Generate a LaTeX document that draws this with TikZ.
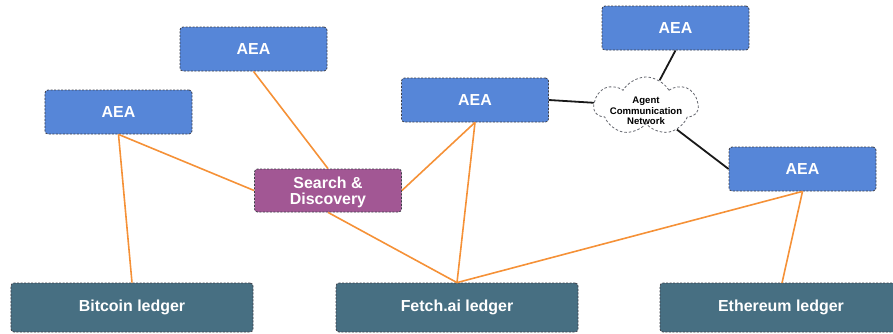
\documentclass[tikz,border=0pt]{standalone}
\usepackage{fontspec}
\setmainfont{Liberation Sans}
\usetikzlibrary{shapes.symbols}
\definecolor{aeablue}{RGB}{86,134,216}
\definecolor{sdpurple}{RGB}{162,87,148}
\definecolor{ledger}{RGB}{71,111,130}
\definecolor{linkorange}{RGB}{245,145,55}
\definecolor{bordergray}{RGB}{60,62,72}
\tikzset{
  box/.style={rectangle, rounded corners=3bp, draw=bordergray, line width=0.8bp,
    dash pattern=on 2bp off 1.5bp, text=white, font=\bfseries\fontsize{16}{16}\selectfont,
    align=center, inner sep=0pt},
  aea/.style={box, fill=aeablue, minimum width=147bp, minimum height=44bp},
  sd/.style={box, fill=sdpurple, minimum width=147bp, minimum height=43bp},
  ledgerbox/.style={box, fill=ledger, minimum width=242bp, minimum height=49bp},
  acn/.style={cloud, cloud puffs=7, cloud puff arc=120, aspect=1.8, draw=bordergray!80,
    line width=0.8bp, dash pattern=on 2.5bp off 2bp, fill=white, inner sep=0pt,
    minimum width=104bp, minimum height=58bp},
  acntext/.style={align=center, inner sep=0pt, font=\bfseries\fontsize{9.6}{10.7}\selectfont},
  orange link/.style={draw=linkorange, line width=1.6bp},
  black link/.style={draw=black!90, line width=1.8bp}
}
\begin{document}
\begin{tikzpicture}[x=1bp,y=-1bp]
\useasboundingbox (0,0) rectangle (893,333);
\clip (0,0) rectangle (893,333);
\node[aea] (aea1) at (118.5,112) {AEA};
\node[aea] (aea2) at (253.5,49) {AEA};
\node[aea] (aea3) at (475,100) {AEA};
\node[aea] (aea4) at (675.5,28) {AEA};
\node[aea] (aea5) at (802.5,169) {AEA};
\node[sd] (sd) at (328,190.5) {\rule{0pt}{16bp}Search \&\\Discovery};
\node[ledgerbox] (btc) at (132,307.5) {Bitcoin ledger};
\node[ledgerbox] (fet) at (457,307.5) {Fetch.ai ledger};
\node[ledgerbox] (eth) at (781,307.5) {Ethereum ledger};
\node[acn] (acn) at (646,106) {};
\node[acntext] (acnlabel) at (646,111) {Agent\\Communication\\Network};
\coordinate (ethtop) at (782,283);
\path[orange link] (aea1.south) -- (btc.north);
\path[orange link] (aea1.south) -- (sd.west);
\path[orange link] (aea2.south) -- (sd.north);
\path[orange link] (aea3.south) -- (sd.east);
\path[orange link] (aea3.south) -- (fet.north);
\path[orange link] (sd.south) -- (fet.north);
\path[orange link] (aea5.south) -- (fet.north);
\path[orange link] (aea5.south) -- (ethtop);
\path[black link] (aea3.east) -- (acn);
\path[black link] (aea4.south) -- (acn);
\path[black link] (acn) -- (aea5.west);
\end{tikzpicture}
\end{document}
